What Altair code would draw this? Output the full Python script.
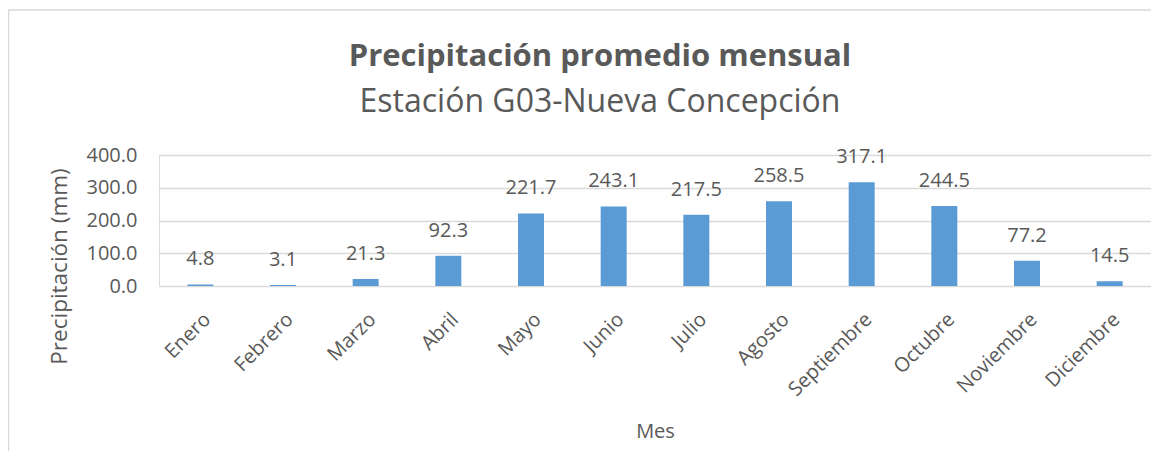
import altair as alt
import pandas as pd

meses = ["Enero", "Febrero", "Marzo", "Abril", "Mayo", "Junio", "Julio",
         "Agosto", "Septiembre", "Octubre", "Noviembre", "Diciembre"]
precip = [4.8, 3.1, 21.3, 92.3, 221.7, 243.1, 217.5, 258.5, 317.1, 244.5, 77.2, 14.5]
y_ticks = [0, 100, 200, 300, 400]

df = pd.DataFrame({"Mes": meses, "Precipitación": precip})

FONT = "Open Sans"
TXT = "#595959"
GRID = "#D9D9D9"
BAR = "#5B9BD5"

x = alt.X("Mes:N", sort=meses, title="Mes",
          scale=alt.Scale(paddingInner=0, paddingOuter=0),
          axis=alt.Axis(labelAngle=-45, labelFontSize=20, labelColor=TXT, labelFont=FONT,
                        labelPadding=23, ticks=False, domain=False, grid=False,
                        labelOverlap=False,
                        titleFontSize=20, titleColor=TXT, titleFont=FONT,
                        titleFontWeight="normal", titlePadding=22))
y = alt.Y("Precipitación:Q", title="Precipitación (mm)",
          scale=alt.Scale(domain=[0, 400], nice=False),
          axis=alt.Axis(values=y_ticks, tickCount=5, format=".1f", labelOverlap=False,
                        labelFontSize=20, labelColor=TXT, labelFont=FONT, labelPadding=22,
                        ticks=False, domain=False, grid=True, gridColor=GRID, gridWidth=1.5,
                        titleFontSize=22.5, titleColor=TXT, titleFont=FONT,
                        titleFontWeight="normal", titleAngle=-90, titleX=-100, titleY=111,
                        titleAlign="center", titleBaseline="middle"))

bars = alt.Chart(df).mark_bar(size=26, color=BAR).encode(x=x, y=y)
labels = alt.Chart(df).mark_text(dy=-19, baseline="alphabetic", fontSize=20,
                                 color=TXT, font=FONT).encode(
    x=x, y=y, text=alt.Text("Precipitación:Q", format=".1f"))

frame = alt.Chart(alt.Data(values=[{}])).mark_rect(
    fill=None, stroke=GRID, strokeWidth=1.5).encode(
    x=alt.value(-150.5), x2=alt.value(1200), y=alt.value(-145), y2=alt.value(400))

chart = alt.layer(frame, bars, labels).properties(
    width=992, height=131,
    padding={"left": 151, "top": 147, "right": 0, "bottom": 165},
    autosize=alt.AutoSizeParams(type="none"),
    title=alt.TitleParams(text="Precipitación promedio mensual",
                          subtitle="Estación G03-Nueva Concepción",
                          anchor="middle", dx=-55, offset=-110,
                          font=FONT, fontSize=31, fontWeight="bold", color=TXT,
                          subtitleFont=FONT, subtitleFontSize=32, subtitleColor=TXT,
                          subtitlePadding=14)
).configure_view(stroke=None).configure(background="white")

chart.save("out.html", embed_options={"renderer": "svg", "actions": False})
